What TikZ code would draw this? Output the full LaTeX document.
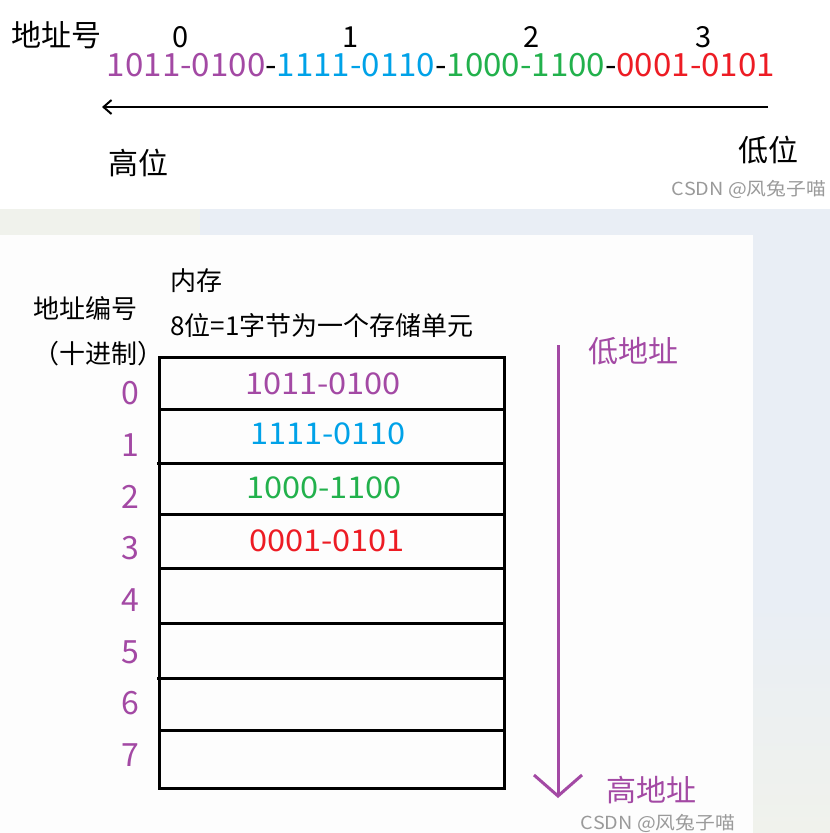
\documentclass[tikz,border=0pt]{standalone}
\usepackage{fontspec}
\usepackage{graphicx}
\setmainfont{Noto Sans CJK SC}
\usetikzlibrary{arrows.meta}
\definecolor{cpur}{HTML}{A349A4}
\definecolor{cblu}{HTML}{00A2E8}
\definecolor{cgrn}{HTML}{22B14C}
\definecolor{cred}{HTML}{ED1C24}
\definecolor{bgblue}{HTML}{E9EEF5}
\definecolor{bggreen}{HTML}{F0F2EC}
\definecolor{panelc}{HTML}{FDFDFD}
\definecolor{wmark}{HTML}{9A9A9A}
\newcommand{\fs}[1]{\fontsize{#1}{#1}\selectfont}
\newcommand{\sx}[2]{\scalebox{#1}[1]{#2}}
\begin{document}
\begin{tikzpicture}[x=1pt,y=-1pt,
  every node/.style={inner sep=0pt,outer sep=0pt},
  lbl/.style={font=\fs{30}},
  small/.style={font=\fs{26}},
  addr/.style={font=\fs{32},text=cpur},
  cell/.style={font=\fs{30}},
  wm/.style={font=\fs{18},text=wmark},
  gridline/.style={line width=3pt,black}]
\useasboundingbox (0,0) rectangle (830,833);
% background
\fill[white] (0,0) rectangle (830,833);
\fill[bgblue] (0,209) rectangle (830,833);
\fill[bggreen] (0,209) rectangle (200,235);
\shade[top color=bgblue,bottom color=bggreen] (753,600) rectangle (830,833);
\fill[panelc] (0,235) rectangle (753,833);
% ---- top part ----
\node[lbl] (dzh) at (57,35) {地址号};
\node[font=\fs{29}] (n0) at (181,37) {0};
\node[font=\fs{29}] (n1) at (351,37) {1};
\node[font=\fs{29}] (n2) at (532,37) {2};
\node[font=\fs{29}] (n3) at (704,37) {3};
\node[font=\fs{32}] (bits) at (441,65) {\sx{1.034}{\textcolor{cpur}{1011-0100}-\textcolor{cblu}{1111-0110}-\textcolor{cgrn}{1000-1100}-\textcolor{cred}{0001-0101}}};
\coordinate (aR) at (768,107);
\coordinate (aL) at (102,107);
\draw[line width=2pt,-{Straight Barb[length=8pt,width=14pt]}] (aR) -- (aL);
\node[lbl] (gw) at (138,163) {高位};
\node[lbl] (dw) at (768,150) {低位};
\node[wm] (wm1) at (749,189) {\sx{1.1}{CSDN @风兔子喵}};
% ---- lower part ----
\node[small] (nc) at (196,281) {内存};
\node[small] (dzbh) at (86,309) {地址编号};
\node[small] (desc) at (322,326) {8位=1字节为一个存储单元};
\node[small] (sjz) at (99,354) {（十进制）};
% table
\draw[gridline] (159,357) rectangle (504,788);
\draw[gridline] (159,409) -- (504,409);
\draw[gridline] (157,463) -- (504,463);
\draw[gridline] (159,514) -- (504,514);
\draw[gridline] (159,568) -- (504,568);
\draw[gridline] (159,623) -- (504,623);
\draw[gridline] (157,678) -- (506,678);
\draw[gridline] (159,730) -- (506,730);
\node[cell,text=cpur] (c0) at (323,384) {\sx{1.085}{1011-0100}};
\node[cell,text=cblu] (c1) at (328,434) {\sx{1.085}{1111-0110}};
\node[cell,text=cgrn] (c2) at (324,488) {\sx{1.085}{1000-1100}};
\node[cell,text=cred] (c3) at (327,541) {\sx{1.085}{0001-0101}};
\node[addr] (a0) at (130,393) {0};
\node[addr] (a1) at (130,445) {1};
\node[addr] (a2) at (130,497) {2};
\node[addr] (a3) at (130,548) {3};
\node[addr] (a4) at (130,600) {4};
\node[addr] (a5) at (130,652) {5};
\node[addr] (a6) at (130,703) {6};
\node[addr] (a7) at (130,755) {7};
% vertical arrow
\coordinate (vT) at (558,345);
\coordinate (vB) at (558,798);
\draw[cpur,line width=3pt,-{Straight Barb[length=21pt,width=48pt]}] (vT) -- (vB);
\node[lbl,text=cpur] (ldz) at (633,351) {低地址};
\node[lbl,text=cpur] (hdz) at (651,790) {高地址};
\node[wm] (wm2) at (658,823) {\sx{1.1}{CSDN @风兔子喵}};
\end{tikzpicture}
\end{document}
